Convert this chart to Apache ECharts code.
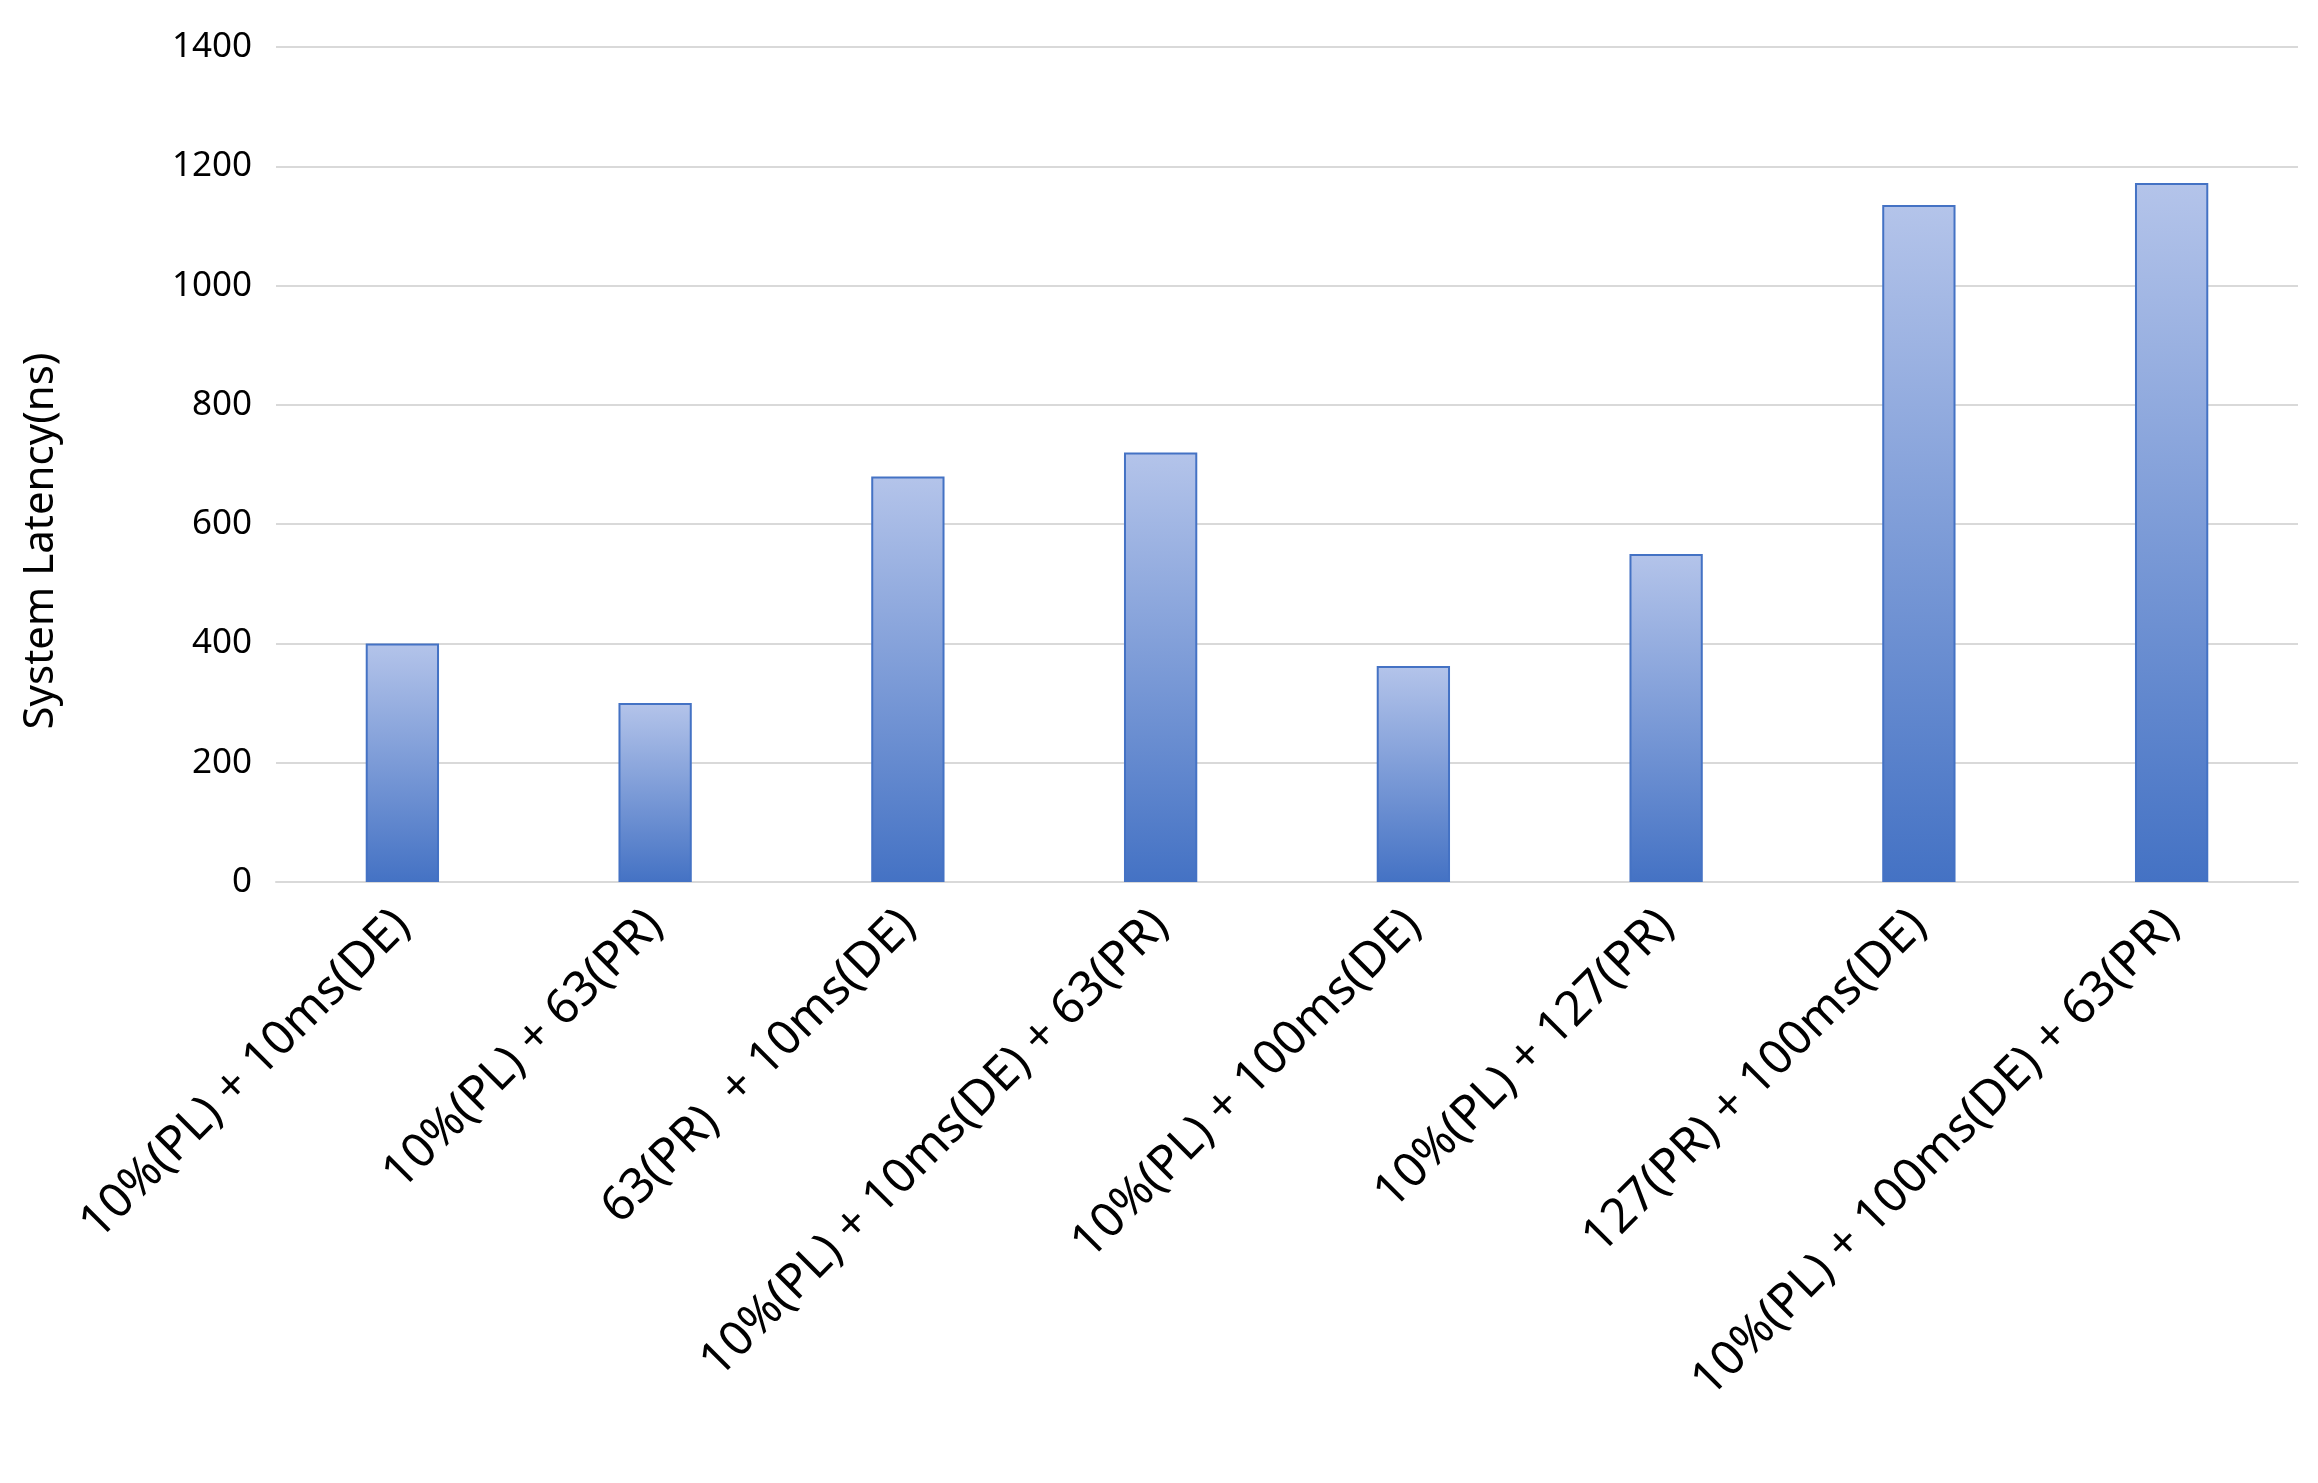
<!DOCTYPE html>
<html>
<head>
<meta charset="utf-8">
<script src="https://cdn.jsdelivr.net/npm/echarts@6/dist/echarts.min.js"></script>
<style>
  html, body { margin: 0; padding: 0; background: #fff; }
  #chartArea { width: 2318px; height: 1483px; }
</style>
</head>
<body>
<div id="chartArea"></div>
<script>
const categories = [
  '10%(PL) + 10ms(DE)',
  '10%(PL) + 63(PR)',
  '63(PR)  + 10ms(DE)',
  '10%(PL) + 10ms(DE) + 63(PR)',
  '10%(PL) + 100ms(DE)',
  '10%(PL) + 127(PR)',
  '127(PR) + 100ms(DE)',
  '10%(PL) + 100ms(DE) + 63(PR)'
];
const latencyValues = [400, 300, 680, 720, 362, 550, 1135, 1172];
const yTicks = [0, 200, 400, 600, 800, 1000, 1200, 1400];

const chartDom = document.getElementById('chartArea');
let myChart = echarts.init(chartDom);
let option;

option = {
  textStyle: { fontFamily: 'Noto Sans' },
  grid: { left: 276, right: 20, top: 47, bottom: 601 },
  graphic: [{
    type: 'text',
    x: 41,
    y: 541,
    rotation: Math.PI / 2,
    style: {
      text: 'System Latency(ns)',
      fontSize: 42,
      fontFamily: 'Noto Sans',
      fill: '#000',
      align: 'center',
      verticalAlign: 'middle'
    }
  }],
  xAxis: {
    type: 'category',
    data: categories,
    axisLine: { lineStyle: { color: '#d9d9d9', width: 2 } },
    axisTick: { show: false },
    axisLabel: {
      rotate: 45,
      interval: 0,
      fontSize: 48,
      color: '#000',
      margin: 36
    }
  },
  yAxis: {
    type: 'value',
    min: yTicks[0],
    max: yTicks[yTicks.length - 1],
    interval: 200,
    axisLine: { show: false },
    axisTick: { show: false },
    axisLabel: { fontSize: 35, color: '#000', margin: 24, formatter: v => String(v) },
    splitLine: { lineStyle: { color: '#d9d9d9', width: 2 } }
  },
  series: [{
    type: 'bar',
    data: latencyValues,
    barWidth: '29%',
    itemStyle: {
      borderColor: '#4472c4',
      borderWidth: 2,
      color: new echarts.graphic.LinearGradient(0, 0, 0, 1, [
        { offset: 0, color: '#b4c4ea' },
        { offset: 1, color: '#4472c4' }
      ])
    }
  }]
};

option && myChart.setOption(option);
</script>
</body>
</html>
